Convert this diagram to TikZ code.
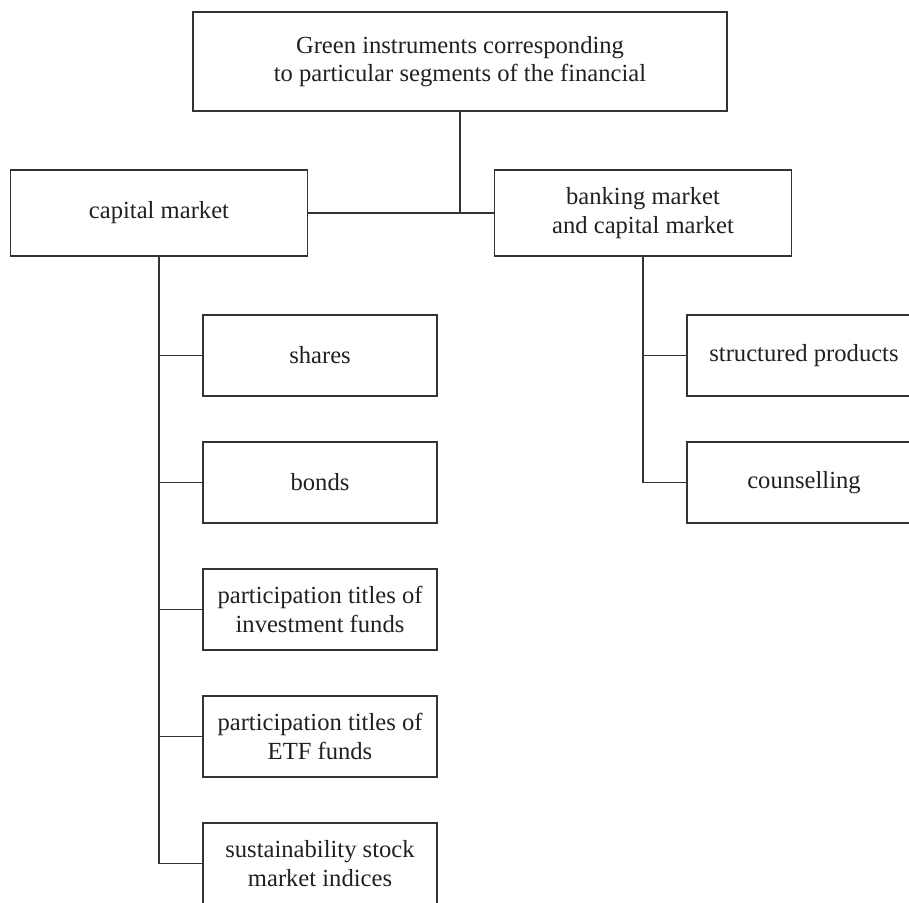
\documentclass[tikz,border=0pt]{standalone}
\usepackage{fontspec}
\setmainfont{Liberation Serif}
\definecolor{linegray}{HTML}{333333}
\definecolor{textdark}{HTML}{231F20}
\begin{document}
\begin{tikzpicture}[x=1pt,y=-1pt,
  box/.style={draw=linegray,line width=1.1pt,rectangle,inner sep=0pt,align=center,
    text=textdark,font=\fontsize{24.6}{28.5}\selectfont},
  topbox/.style={box,minimum width=534pt,minimum height=99pt},
  midbox/.style={box,minimum width=297pt,minimum height=86pt},
  leafbox/.style={box,minimum width=234pt,minimum height=81pt},
  conn/.style={draw=linegray,line width=1.1pt}]
\useasboundingbox (0,0) rectangle (909,902);
\clip (0,0) rectangle (909,902);
\node[topbox] (top) at (460,61.5) {Green instruments corresponding\\to particular segments of the financial};
\node[midbox] (cap) at (159,213) {capital market};
\node[midbox] (bank) at (643,213) {banking market\\and capital market};
\node[leafbox] (shares) at (320,355.5) {shares};
\node[leafbox] (bonds) at (320,482.5) {bonds};
\node[leafbox] (inv) at (320,609.5) {participation titles of\\investment funds};
\node[leafbox] (etf) at (320,736.5) {participation titles of\\ETF funds};
\node[leafbox] (sust) at (320,863.5) {sustainability stock\\market indices};
\node[leafbox] (struct) at (804,355.5) {structured products};
\node[leafbox] (couns) at (804,482.5) {counselling};
% connectors
\draw[conn] (cap.east) -- (bank.west);
\draw[conn] (top.south) -- (top.south |- cap.east);
\draw[conn] (cap.south) -- (cap.south |- sust.west);
\foreach \c in {shares,bonds,inv,etf,sust}
  \draw[conn] (cap.south |- \c.west) -- (\c.west);
\draw[conn] (bank.south) -- (bank.south |- couns.west);
\foreach \c in {struct,couns}
  \draw[conn] (bank.south |- \c.west) -- (\c.west);
\end{tikzpicture}
\end{document}
